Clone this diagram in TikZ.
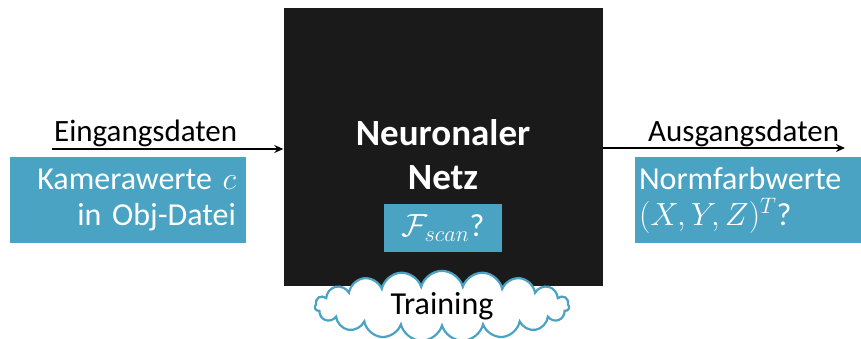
\RequirePackage{fix-cm}
\documentclass[tikz,border=0pt]{standalone}
\usepackage{fontspec}
\setmainfont{Carlito}
\usetikzlibrary{shapes.symbols,arrows.meta,positioning}
\definecolor{boxblue}{HTML}{4BA3C3}
\definecolor{netzblack}{HTML}{1A1A1A}
\tikzset{
  netzbox/.style={fill=netzblack, minimum width=319pt, minimum height=278pt, inner sep=0pt},
  bluebox/.style={fill=boxblue, text=white, minimum height=86pt, font=\fontsize{32}{36}\selectfont},
  datalabel/.style={font=\fontsize{31}{34}\selectfont, inner sep=0pt},
  flow/.style={line width=1.6pt, -{Stealth[length=9pt,width=8pt]}}
}
\begin{document}
\begin{tikzpicture}[x=1pt,y=-1pt]
\useasboundingbox (0,0) rectangle (861,338);
% central network block
\node[netzbox] (netz) at (443,147) {};
\node[text=white, align=center, font=\bfseries\fontsize{37}{44}\selectfont] (netztext) at (443,155) {Neuronaler\\Netz};
\node[bluebox, minimum width=118pt, minimum height=48pt, inner sep=0pt] (fscan) at (443,228) {$\mathcal{F}_{scan}$?};
% training cloud
\node[cloud, cloud puffs=19, aspect=6.5, draw=boxblue, line width=2.2pt, fill=white,
  minimum width=200pt, minimum height=33pt, inner sep=0pt, font=\fontsize{32}{34}\selectfont] (training) at (442,306) {Training};
% input side
\node[bluebox, minimum width=236pt, text width=216pt, inner xsep=10pt, align=right] (input) at (128,200)
  {Kamerawerte $c$\\in Obj-Datei};
\node[datalabel, anchor=base west] (inlabel) at (54,141) {Eingangsdaten};
\coordinate (instart) at (52,149);
\draw[flow] (instart) -- (instart -| netz.west);
% output side
\node[bluebox, minimum width=226pt, text width=218pt, inner xsep=4pt, align=left] (output) at (748,200)
  {Normfarbwerte\\$(X,Y,Z)^T$?};
\node[datalabel, anchor=base west] (outlabel) at (648,141) {Ausgangsdaten};
\coordinate (outend) at (845,148);
\draw[flow] (outend -| netz.east) -- (outend);
\end{tikzpicture}
\end{document}
